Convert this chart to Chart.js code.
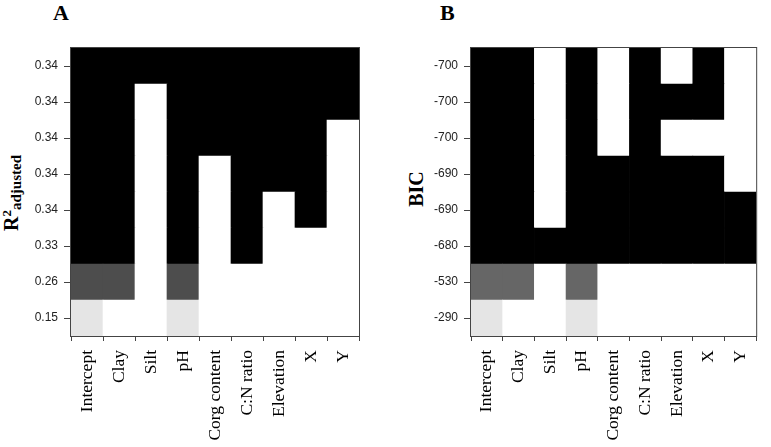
<!DOCTYPE html>
<html>
<head>
<meta charset="utf-8">
<script src="https://cdn.jsdelivr.net/npm/chart.js@4.4.1/dist/chart.umd.min.js"></script>
<style>
	html, body { margin: 0; padding: 0; background: #fff; }
	body { width: 771px; height: 447px; position: relative; overflow: hidden; }
	.panel { position: absolute; top: 0; height: 447px; }
	.letter { position: absolute; top: 0; font: bold 22px "Liberation Serif", "Times New Roman", serif; color: #000; }
	.ytitle { position: absolute; font: bold 20px "Liberation Serif", "Times New Roman", serif; color: #000;
		line-height: 23px; white-space: nowrap; transform: translate(-50%, -50%) rotate(-90deg); }
	.ytitle .sup { font-size: 13px; position: relative; top: -7px; }
	.ytitle .sub { font-size: 15px; position: relative; top: 3px; }
</style>
</head>
<body>
<div class="letter" style="left:53px;">A</div>
<div class="letter" style="left:440px;">B</div>
<div class="ytitle" style="left:12px; top:193px;">R<span class="sup">2</span><span class="sub">adjusted</span></div>
<div class="ytitle" style="left:416px; top:189px;">BIC</div>
<div class="panel" style="left:0; width:385px;"><canvas id="chartA"></canvas></div>
<div class="panel" style="left:385px; width:386px;"><canvas id="chartB"></canvas></div>

<script>
// model terms (columns)
const variables = ["Intercept", "Clay", "Silt", "pH", "Corg content", "C:N ratio", "Elevation", "X", "Y"];

// row labels, top to bottom
const r2Labels = ["0.34", "0.34", "0.34", "0.34", "0.34", "0.33", "0.26", "0.15"];
const bicLabels = ["-700", "-700", "-700", "-690", "-690", "-680", "-530", "-290"];

// shade level of each row (0 = best / black, 1 = grey, 2 = light grey)
const r2Level = [0, 0, 0, 0, 0, 0, 1, 2];
const bicLevel = [0, 0, 0, 0, 0, 0, 1, 2];

// term included in model? rows top to bottom, columns as variables
const r2Include = [
	[1, 1, 1, 1, 1, 1, 1, 1, 1],
	[1, 1, 0, 1, 1, 1, 1, 1, 1],
	[1, 1, 0, 1, 1, 1, 1, 1, 0],
	[1, 1, 0, 1, 0, 1, 1, 1, 0],
	[1, 1, 0, 1, 0, 1, 0, 1, 0],
	[1, 1, 0, 1, 0, 1, 0, 0, 0],
	[1, 1, 0, 1, 0, 0, 0, 0, 0],
	[1, 0, 0, 1, 0, 0, 0, 0, 0]
];
const bicInclude = [
	[1, 1, 0, 1, 0, 1, 0, 1, 0],
	[1, 1, 0, 1, 0, 1, 1, 1, 0],
	[1, 1, 0, 1, 0, 1, 0, 0, 0],
	[1, 1, 0, 1, 1, 1, 1, 1, 0],
	[1, 1, 0, 1, 1, 1, 1, 1, 1],
	[1, 1, 1, 1, 1, 1, 1, 1, 1],
	[1, 1, 0, 1, 0, 0, 0, 0, 0],
	[1, 0, 0, 1, 0, 0, 0, 0, 0]
];

// draws the frame round the plot region
const boxPlugin = {
	id: "box",
	afterDatasetsDraw(chart) {
		const a = chart.chartArea;
		const ctx = chart.ctx;
		ctx.save();
		ctx.strokeStyle = "#444";
		ctx.lineWidth = 1;
		ctx.strokeRect(a.left - 0.5, a.top - 0.5, a.right - a.left + 1, a.bottom - a.top + 1);
		ctx.restore();
	}
};

function subsetChart(id, rowLabels, include, level, palette, yWidth, padRight) {
	let nRows = rowLabels.length;
	let datasets = [];
	// stacked from the bottom row up
	for (let r = nRows - 1; r >= 0; r--) {
		datasets.push({
			data: variables.map(() => 1),
			backgroundColor: include[r].map(v => v ? palette[level[r]] : "#ffffff"),
			borderWidth: 0,
			barPercentage: 1,
			categoryPercentage: 1
		});
	}

	new Chart(document.getElementById(id), {
		type: "bar",
		data: { labels: variables, datasets: datasets },
		options: {
			responsive: false,
			animation: false,
			layout: { padding: { top: 48, right: padRight, left: 0, bottom: 0 } },
			plugins: { legend: { display: false }, tooltip: { enabled: false } },
			scales: {
				x: {
					stacked: true,
					offset: true,
					grid: { display: true, drawOnChartArea: false, tickLength: 5, color: "#444" },
					border: { display: false },
					ticks: {
						minRotation: 90, maxRotation: 90, autoSkip: false, padding: 9, color: "#000",
						font: { family: "'Liberation Serif', 'Times New Roman', serif", size: 17.5 }
					},
					afterFit(scale) { scale.height = 111; }
				},
				y: {
					stacked: true,
					min: 0, max: nRows,
					grid: { display: true, drawOnChartArea: false, tickLength: 7, color: "#444" },
					border: { display: false },
					afterBuildTicks(scale) {
						scale.ticks = rowLabels.map((_, i) => ({ value: i + 0.5 }));
					},
					ticks: {
						padding: 6, color: "#222",
						font: { family: "'Liberation Sans', Arial, sans-serif", size: 12 },
						callback: (v) => rowLabels[nRows - 1 - Math.floor(v)]
					},
					afterFit(scale) { scale.width = yWidth; }
				}
			}
		},
		plugins: [boxPlugin]
	});
}

let cA = document.getElementById("chartA");
cA.width = 385; cA.height = 447;
let cB = document.getElementById("chartB");
cB.width = 386; cB.height = 447;

subsetChart("chartA", r2Labels, r2Include, r2Level, ["#000000", "#4d4d4d", "#e5e5e5"], 71, 26);
subsetChart("chartB", bicLabels, bicInclude, bicLevel, ["#000000", "#666666", "#e5e5e5"], 86, 12);
</script>
</body>
</html>
